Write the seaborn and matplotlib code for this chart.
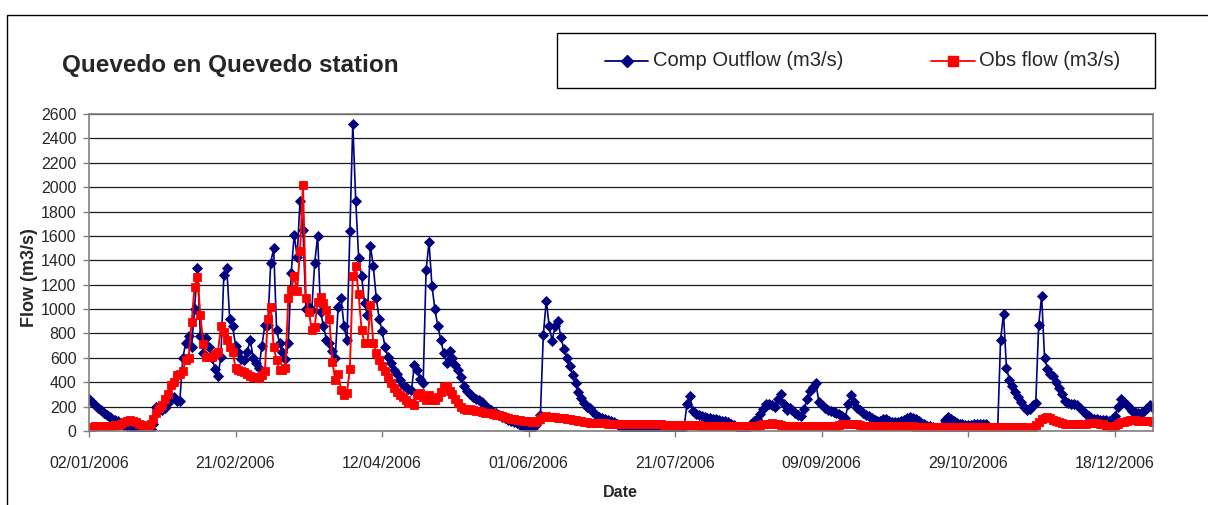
import matplotlib
matplotlib.use('Agg')
import matplotlib.pyplot as plt
import seaborn as sns
import pandas as pd
from matplotlib.patches import Rectangle
from matplotlib.lines import Line2D

# daily series, 02/01/2006 .. 31/12/2006
dates = pd.date_range('2006-01-02', '2006-12-31', freq='D')

comp_outflow = [
    260, 240, 215, 190, 170, 150, 130, 115, 100, 90,
    80, 65, 50, 40, 30, 25, 20, 15, 15, 15,
    15, 20, 60, 200, 190, 170, 190, 230, 260, 280,
    250, 250, 600, 720, 780, 690, 1000, 1340, 780, 640,
    760, 690, 600, 510, 450, 610, 1280, 1340, 920, 860,
    700, 650, 590, 580, 650, 750, 600, 560, 520, 700,
    870, 870, 1380, 1500, 830, 720, 650, 590, 720, 1300,
    1610, 1430, 1890, 1650, 1000, 1020, 990, 1380, 1600, 980,
    860, 750, 720, 660, 600, 1020, 1090, 860, 750, 1640,
    2520, 1890, 1420, 1270, 1050, 950, 1520, 1350, 1090, 920,
    820, 690, 610, 555, 500, 470, 420, 380, 360, 345,
    335, 540, 500, 430, 390, 1320, 1550, 1190, 1000, 860,
    750, 640, 560, 660, 600, 540, 500, 440, 370, 330,
    300, 275, 265, 255, 240, 205, 185, 170, 155, 145,
    130, 118, 105, 92, 80, 70, 62, 50, 38, 30,
    22, 25, 40, 65, 130, 790, 1070, 860, 740, 860,
    900, 770, 670, 600, 530, 460, 390, 320, 270, 230,
    200, 185, 158, 131, 117, 105, 95, 88, 80, 76,
    55, 38, 30, 22, 18, 12, 10, 8, 5, 3,
    3, 3, 3, 3, 3, 3, 5, 5, 8, 8,
    10, 12, 15, 25, 220, 290, 160, 140, 130, 120,
    115, 110, 105, 100, 95, 90, 85, 78, 70, 60,
    48, 30, 10, 5, 5, 30, 60, 80, 100, 140,
    180, 225, 220, 210, 200, 260, 305, 220, 175, 185,
    170, 150, 130, 120, 180, 260, 330, 360, 390, 240,
    215, 185, 170, 160, 155, 150, 140, 120, 105, 220,
    295, 240, 190, 170, 150, 135, 120, 105, 90, 78,
    85, 100, 95, 85, 76, 75, 76, 80, 90, 105,
    115, 110, 95, 78, 65, 55, 45, 38, 30, 10,
    5, 40, 90, 115, 100, 80, 65, 60, 55, 50,
    50, 50, 55, 60, 60, 60, 55, 20, 5, 5,
    10, 750, 960, 520, 420, 370, 320, 280, 240, 200,
    170, 180, 210, 230, 870, 1110, 600, 510, 470, 450,
    400, 350, 300, 250, 230, 225, 225, 210, 190, 165,
    140, 120, 110, 100, 95, 90, 90, 90, 85, 75,
    120, 200, 260, 240, 210, 185, 165, 155, 145, 150,
    160, 190, 210, 185,
]

obs_flow = [
    35, 35, 38, 40, 40, 42, 42, 45, 45, 48,
    50, 60, 75, 85, 90, 85, 75, 60, 50, 45,
    45, 60, 95, 145, 185, 210, 265, 300, 375, 400,
    460, 470, 490, 580, 600, 890, 1180, 1260, 950, 710,
    610, 610, 610, 630, 650, 860, 810, 750, 690, 650,
    520, 500, 490, 480, 470, 455, 445, 440, 435, 460,
    490, 920, 1020, 690, 580, 500, 500, 520, 1090, 1160,
    1270, 1150, 1480, 2020, 1090, 980, 830, 855, 1060, 1100,
    1050, 990, 920, 570, 420, 470, 340, 295, 310, 510,
    1270, 1350, 1120, 830, 720, 720, 1030, 720, 640, 580,
    530, 490, 445, 390, 350, 320, 295, 280, 255, 230,
    230, 215, 295, 310, 280, 255, 295, 255, 255, 280,
    320, 360, 365, 330, 300, 265, 230, 200, 180, 175,
    180, 175, 165, 160, 155, 150, 145, 145, 140, 135,
    130, 125, 115, 105, 100, 95, 92, 90, 85, 80,
    78, 76, 75, 78, 95, 115, 120, 118, 115, 112,
    110, 108, 105, 100, 95, 92, 90, 85, 80, 75,
    72, 68, 65, 64, 63, 62, 62, 61, 60, 60,
    59, 59, 58, 58, 57, 57, 57, 56, 56, 56,
    55, 55, 55, 54, 54, 54, 53, 53, 52, 52,
    52, 51, 50, 50, 49, 48, 48, 47, 46, 45,
    45, 44, 44, 43, 43, 42, 42, 42, 41, 41,
    40, 40, 40, 39, 39, 39, 40, 42, 45, 50,
    55, 58, 60, 62, 60, 55, 50, 45, 42, 40,
    40, 39, 39, 38, 38, 38, 38, 38, 38, 38,
    38, 38, 39, 40, 42, 45, 50, 55, 58, 60,
    60, 58, 55, 50, 45, 42, 40, 40, 39, 39,
    38, 38, 38, 38, 37, 37, 37, 37, 37, 37,
    37, 37, 36, 36, 36, 36, 36, 36, 36, 36,
    36, 36, 36, 35, 35, 35, 35, 35, 35, 35,
    35, 35, 35, 35, 35, 34, 34, 34, 34, 34,
    34, 34, 34, 33, 33, 33, 33, 33, 32, 30,
    28, 26, 30, 50, 76, 95, 110, 115, 105, 92,
    85, 75, 65, 60, 58, 57, 57, 57, 57, 58,
    60, 62, 63, 63, 62, 60, 55, 45, 38, 35,
    40, 55, 70, 76, 80, 88, 90, 88, 85, 82,
    80, 80, 78, 76,
]

tick_dates = pd.date_range('2006-01-02', periods=8, freq='50D')
y_ticks = list(range(0, 2601, 200))

series_names = ['Comp Outflow (m3/s)', 'Obs flow (m3/s)']
series_colors = ['#000080', '#FF0000']

sns.set_theme(style='white')
plt.rcParams['font.family'] = ['Liberation Sans', 'DejaVu Sans']

W, H = 1208, 505
fig = plt.figure(figsize=(W / 100, H / 100), dpi=100)
ax = fig.add_axes([89 / W, 1 - 431 / H, (1153 - 89) / W, (431 - 114) / H])

df = pd.DataFrame({'Date': dates, 'Comp': comp_outflow, 'Obs': obs_flow})

sns.lineplot(data=df, x='Date', y='Comp', ax=ax, color=series_colors[0], lw=1.2,
             marker='D', markersize=5.0, markeredgecolor=series_colors[0],
             markeredgewidth=0.6, legend=False)
sns.lineplot(data=df, x='Date', y='Obs', ax=ax, color=series_colors[1], lw=1.4,
             marker='s', markersize=5.8, markeredgecolor=series_colors[1],
             markeredgewidth=0.6, legend=False)

ax.set_xlim(dates[0], dates[-1])
ax.set_ylim(0, 2600)
ax.set_yticks(y_ticks)
ax.set_xticks(tick_dates)
ax.set_xticklabels([d.strftime('%d/%m/%Y') for d in tick_dates])
ax.yaxis.grid(True, color='#1a1a1a', lw=0.9)
ax.xaxis.grid(False)
ax.set_axisbelow(True)
for side in ['left', 'bottom', 'top', 'right']:
    ax.spines[side].set_color('#808080')
    ax.spines[side].set_linewidth(1.2)
ax.tick_params(axis='y', direction='out', length=4, width=1, color='#808080',
               labelsize=11.5, pad=5, left=True)
ax.tick_params(axis='x', direction='out', length=4, width=1, color='#808080',
               labelsize=11.5, pad=14, bottom=True)

ax.set_ylabel('Flow (m3/s)', fontsize=13, fontweight='bold')
ax.yaxis.set_label_coords((38 - 89) / 1064, 0.483)
ax.set_xlabel('Date', fontsize=11.5, fontweight='bold')
ax.xaxis.set_label_coords((620 - 89) / 1064, (431 - 485) / 317)

# title
fig.text(62 / W, 1 - 72 / H, 'Quevedo en Quevedo station', fontsize=17.5,
         fontweight='bold', ha='left', va='baseline')

# chart border (top and left visible)
fig.add_artist(Rectangle((7 / W, -0.1), 1.2, 1.1 - 15 / H, transform=fig.transFigure,
                         fill=False, edgecolor='black', lw=1))

# legend box
fig.add_artist(Rectangle((557 / W, 1 - 88 / H), (1155 - 557) / W, (88 - 33) / H,
                         transform=fig.transFigure, fill=False, edgecolor='black', lw=1))
leg_y = 1 - 61 / H
for (x0, x1, tx), name, col, mk, ms in zip([(605, 648, 653), (931, 975, 979)],
                                          series_names, series_colors, ['D', 's'], [6.5, 7.5]):
    fig.add_artist(Line2D([x0 / W, x1 / W], [leg_y, leg_y], transform=fig.transFigure,
                          color=col, lw=1.3))
    fig.add_artist(Line2D([(x0 + x1) / 2 / W], [leg_y], transform=fig.transFigure,
                          color=col, marker=mk, markersize=ms, markeredgecolor=col))
    fig.text(tx / W, leg_y, name, fontsize=14.5, ha='left', va='center')

fig.savefig('out.png', dpi=100)
